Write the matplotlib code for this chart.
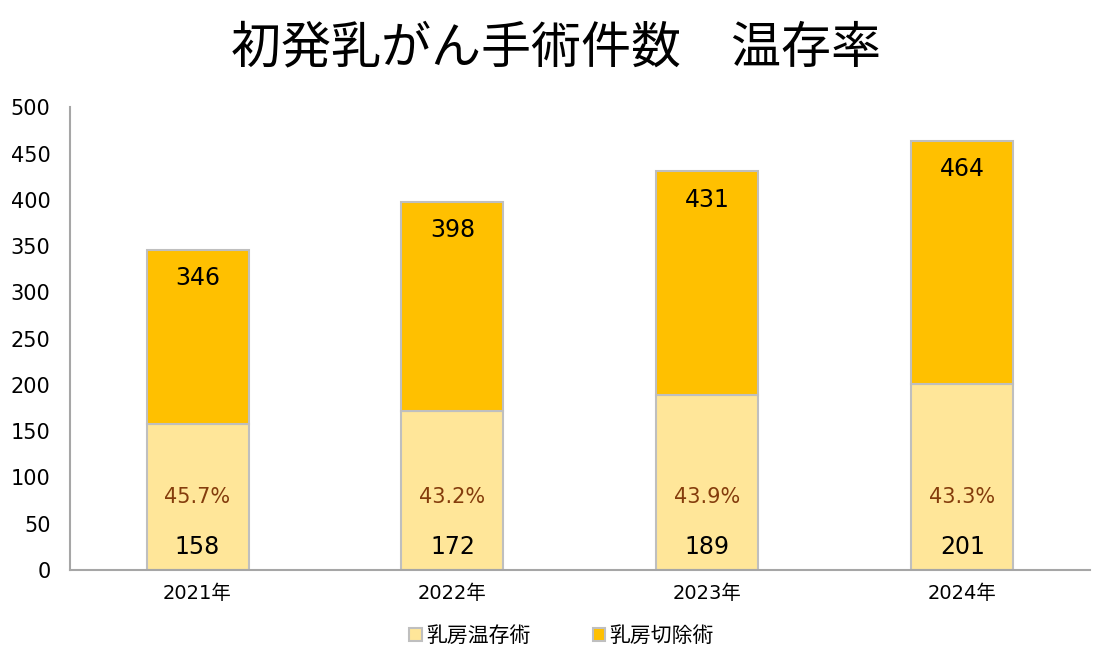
import numpy as np
import matplotlib.pyplot as plt

plt.rcParams['font.family'] = ['DejaVu Sans', 'Noto Sans CJK JP']

years = ['2021年', '2022年', '2023年', '2024年']
conserve = [158, 172, 189, 201]      # 乳房温存術
totals = [346, 398, 431, 464]        # 合計
mastectomy = [t - c for t, c in zip(totals, conserve)]  # 乳房切除術
rates = ['45.7%', '43.2%', '43.9%', '43.3%']

fig = plt.figure(figsize=(11.12, 6.62), dpi=100)
ax = fig.add_axes([0.063, 0.139, 0.917, 0.699])

x = np.arange(len(years))
w = 0.4
ax.bar(x, conserve, w, color='#FFE699', edgecolor='#BFBFBF', linewidth=1.5, label='乳房温存術')
ax.bar(x, mastectomy, w, bottom=conserve, color='#FFC000', edgecolor='#BFBFBF', linewidth=1.5, label='乳房切除術')

for i in range(len(years)):
    ax.text(x[i], 25, str(conserve[i]), ha='center', va='center', fontsize=17, color='black')
    ax.text(x[i], 79, rates[i], ha='center', va='center', fontsize=15, color='#843C0C')
    ax.text(x[i], totals[i] - 31, str(totals[i]), ha='center', va='center', fontsize=17, color='black')

ax.set_xlim(-0.5, 3.5)
ax.set_ylim(0, 500)
ax.set_yticks(range(0, 501, 50))
ax.set_xticks(x)
ax.set_xticklabels(years)
ax.tick_params(axis='both', length=0, colors='black')
ax.tick_params(axis='y', pad=14, labelsize=15)
ax.tick_params(axis='x', pad=10, labelsize=14)
for s in ['top', 'right']:
    ax.spines[s].set_visible(False)
for s in ['left', 'bottom']:
    ax.spines[s].set_color('#A6A6A6')
    ax.spines[s].set_linewidth(1.5)

fig.text(0.5, 0.927, '初発乳がん手術件数\u3000温存率', ha='center', va='center', fontsize=36,
         family=['Noto Sans CJK JP', 'DejaVu Sans'])
fig.legend(loc='center', bbox_to_anchor=(0.505, 0.04), ncol=2, frameon=False, fontsize=15,
           handlelength=0.6, handleheight=0.6, handletextpad=0.2, columnspacing=3)

fig.savefig('out.png', dpi=100)
